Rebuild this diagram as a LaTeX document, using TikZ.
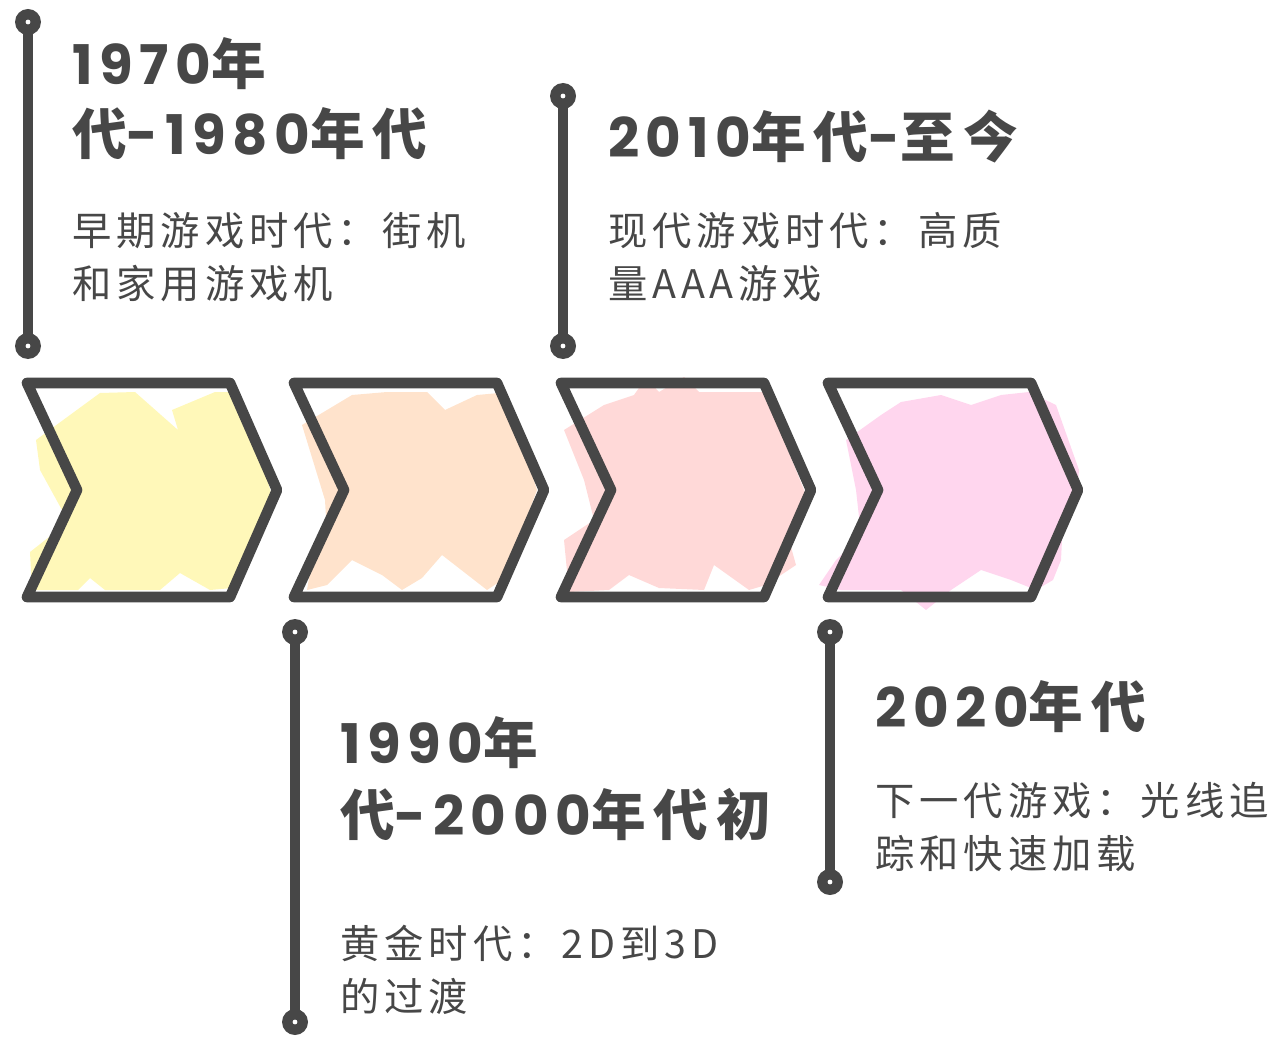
\documentclass[tikz,border=0pt]{standalone}
\usepackage{fontspec}
\setmainfont{Noto Sans CJK SC}
\newfontfamily\cjkt{Noto Sans CJK SC}[LetterSpace=15]
\newfontfamily\lat{Poppins}[LetterSpace=12]
\definecolor{ink}{HTML}{474747}
\definecolor{fyellow}{HTML}{FFF8B9}
\definecolor{fpeach}{HTML}{FFE3CC}
\definecolor{fpink}{HTML}{FFD9D8}
\definecolor{fmag}{HTML}{FFD6EE}
\tikzset{
  chevline/.style={draw=ink, line width=8pt, line join=round, line cap=round},
  stem/.style={draw=ink, line width=7.5pt, shorten <=-2pt, shorten >=-2pt},
  pindot/.style={circle, fill=ink, minimum size=19.5pt, inner sep=0pt,
    path picture={\fill[white] (path picture bounding box.center) circle (1.8pt);}},
  ttl/.style={anchor=base west, inner sep=0pt, text=ink,
    font=\fontsize{41}{48}\selectfont\bfseries\cjkt},
  dsc/.style={anchor=base west, inner sep=0pt, text=ink,
    font=\fontsize{29.5}{36}\selectfont\addfontfeatures{LetterSpace=12.5}},
}
\newcommand\chevshape{(27,383) -- (230,383) -- (277,490) -- (230,597) -- (27,597) -- (77,490) -- cycle}
\begin{document}
\begin{tikzpicture}[x=0.75pt,y=-0.75pt]
\useasboundingbox (0,0) rectangle (1276,1037);

% ---- fills ----
\fill[fyellow] (36,440) -- (70,415) -- (100,393) -- (135,392) -- (178,430) -- (172,410) -- (215,392) -- (235,392) -- (265,470) -- (274,505) -- (262,525) -- (245,560) -- (232,588) -- (210,590) -- (180,573) -- (160,590) -- (105,590) -- (90,578) -- (78,590) -- (32,590) -- (30,552) -- (58,530) -- (62,510) -- (40,470) -- cycle;
\begin{scope}[shift={(267,0)}]
\fill[fpeach] (35,425) -- (60,410) -- (85,395) -- (120,392) -- (160,392) -- (178,410) -- (210,395) -- (232,393) -- (262,465) -- (270,490) -- (255,530) -- (235,580) -- (220,590) -- (175,555) -- (155,578) -- (135,590) -- (115,575) -- (85,560) -- (60,585) -- (40,590) -- (45,560) -- (60,535) -- (58,500) -- cycle;
\end{scope}
\begin{scope}[shift={(534,0)}]
\fill[fpink] (30,430) -- (70,405) -- (100,395) -- (112,378) -- (125,392) -- (150,377) -- (165,392) -- (230,392) -- (262,470) -- (272,495) -- (255,540) -- (262,565) -- (232,585) -- (215,590) -- (180,565) -- (170,590) -- (125,588) -- (95,575) -- (75,590) -- (35,592) -- (30,540) -- (60,520) -- (50,480) -- cycle;
\end{scope}
\begin{scope}[shift={(801,0)}]
\fill[fmag] (45,440) -- (80,415) -- (100,402) -- (140,395) -- (170,405) -- (200,395) -- (228,392) -- (255,405) -- (278,470) -- (275,505) -- (262,520) -- (260,560) -- (252,580) -- (235,590) -- (210,580) -- (180,570) -- (150,590) -- (125,610) -- (100,590) -- (40,590) -- (18,585) -- (35,560) -- (60,535) -- (55,490) -- cycle;
\end{scope}

% ---- chevron outlines ----
\draw[chevline] \chevshape;
\begin{scope}[shift={(267,0)}]\draw[chevline] \chevshape;\end{scope}
\begin{scope}[shift={(534,0)}]\draw[chevline] \chevshape;\end{scope}
\begin{scope}[shift={(801,0)}]\draw[chevline] \chevshape;\end{scope}

% ---- stems ----
\node[pindot] (p1t) at (28,22) {};
\node[pindot] (p1b) at (28,346) {};
\draw[stem] (p1t) -- (p1b);
\node[pindot] (p2t) at (295,632) {};
\node[pindot] (p2b) at (295,1022) {};
\draw[stem] (p2t) -- (p2b);
\node[pindot] (p3t) at (563,96) {};
\node[pindot] (p3b) at (563,346) {};
\draw[stem] (p3t) -- (p3b);
\node[pindot] (p4t) at (830,632) {};
\node[pindot] (p4b) at (830,882) {};
\draw[stem] (p4t) -- (p4b);

% ---- texts ----
\node[ttl] (t1a) at (72,85) {{\lat 1970}年};
\node[ttl] (t1b) at (72,155) {代{\lat -1980}年代};
\node[dsc] (d1a) at (72,246) {早期游戏时代：街机};
\node[dsc] (d1b) at (72,299) {和家用游戏机};

\node[ttl] (t3a) at (608,158) {{\lat 2010}年代{\lat -}至今};
\node[dsc] (d3a) at (608,246) {现代游戏时代：高质};
\node[dsc] (d3b) at (608,299) {量AAA游戏};

\node[ttl] (t2a) at (340,763) {{\lat 1990}年};
\node[ttl] (t2b) at (340,835) {代{\lat -2000}年代初};
\node[dsc] (d2a) at (340,958) {黄金时代：2D到3D};
\node[dsc] (d2b) at (340,1011) {的过渡};

\node[ttl] (t4a) at (875,727) {{\lat 2020}年代};
\node[dsc] (d4a) at (875,815) {下一代游戏：光线追};
\node[dsc] (d4b) at (875,868) {踪和快速加载};
\end{tikzpicture}
\end{document}
